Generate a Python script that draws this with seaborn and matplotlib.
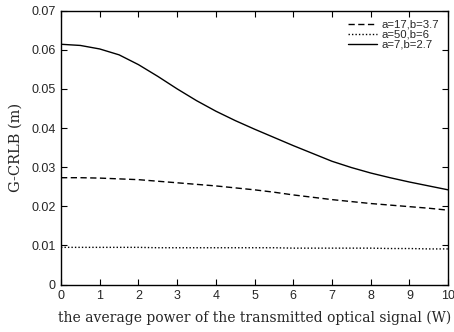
import matplotlib

matplotlib.use("Agg")

import matplotlib.pyplot as plt
import numpy as np
import pandas as pd
import seaborn as sns

sns.set_style("ticks")
plt.rcParams["font.family"] = ["Liberation Sans", "DejaVu Sans"]

# average transmitted optical power (W)
power = [0, 0.5, 1, 1.5, 2, 2.5, 3, 3.5, 4, 4.5, 5, 5.5, 6, 6.5, 7, 7.5, 8, 8.5, 9, 9.5, 10]

crlb_a17_b37 = [0.0273, 0.0273, 0.0272, 0.0270, 0.0268, 0.0264, 0.0260, 0.0256, 0.0252, 0.0247,
                0.0242, 0.0236, 0.0229, 0.0223, 0.0217, 0.0212, 0.0207, 0.0203, 0.0199, 0.0195, 0.0190]
crlb_a50_b6 = [0.0095, 0.0095, 0.0095, 0.0095, 0.0095, 0.0094, 0.0094, 0.0094, 0.0094, 0.0094,
               0.0094, 0.0094, 0.0093, 0.0093, 0.0093, 0.0093, 0.0093, 0.0092, 0.0092, 0.0091, 0.0091]
crlb_a7_b27 = [0.0614, 0.0611, 0.0602, 0.0587, 0.0562, 0.0532, 0.0500, 0.0470, 0.0443, 0.0419,
               0.0397, 0.0376, 0.0355, 0.0335, 0.0315, 0.0299, 0.0285, 0.0273, 0.0262, 0.0252, 0.0242]

series_labels = ["a=17,b=3.7", "a=50,b=6", "a=7,b=2.7"]
series_values = [crlb_a17_b37, crlb_a50_b6, crlb_a7_b27]
line_styles = [(0, (4.5, 2.5)), (0, (1, 1.5)), "-"]

fig = plt.figure(figsize=(4.54, 3.32), dpi=100)
ax = fig.add_axes([0.1344, 0.143, 0.8526, 0.825])

for label, values, ls in zip(series_labels, series_values, line_styles):
    df = pd.DataFrame({"power": power, "crlb": values})
    sns.lineplot(data=df, x="power", y="crlb", ax=ax, color="black",
                 linewidth=1.0, linestyle=ls, label=label)

ax.set_xlim(0, 10)
ax.set_ylim(0, 0.07)
ax.set_xticks(range(0, 11))
ax.set_yticks([0, 0.01, 0.02, 0.03, 0.04, 0.05, 0.06, 0.07])
ax.set_yticklabels(["0", "0.01", "0.02", "0.03", "0.04", "0.05", "0.06", "0.07"])
ax.tick_params(direction="in", top=True, right=True, length=4, width=0.8,
               labelsize=9, pad=4, color="black")
for spine in ax.spines.values():
    spine.set_linewidth(1.0)
    spine.set_color("black")

serif = ["DejaVu Serif"]
ax.set_xlabel("the average power of the transmitted optical signal (W)",
              family=serif, fontsize=10, labelpad=6)
ax.set_ylabel("G-CRLB (m)", family=serif, fontsize=10.5, labelpad=6)

ax.legend(loc="upper right", frameon=False, fontsize=8.2, handlelength=2.5,
          handletextpad=0.4, labelspacing=0.0, borderaxespad=0.4)

fig.savefig("out.png", dpi=100)
plt.close(fig)
